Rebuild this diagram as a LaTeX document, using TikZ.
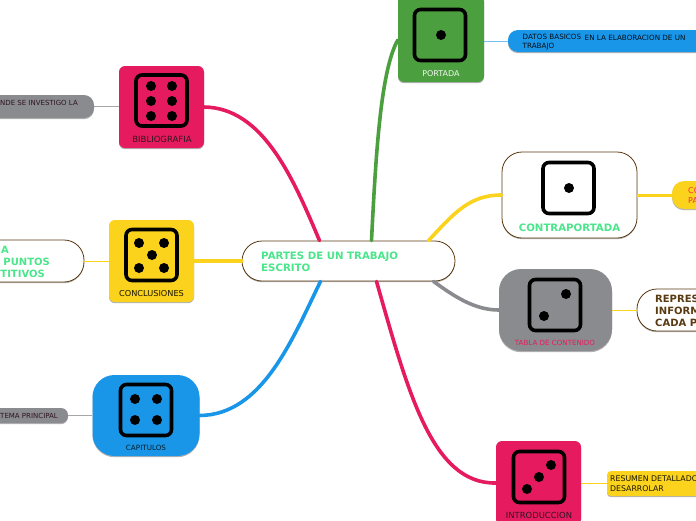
\documentclass[tikz,border=0pt]{standalone}
\usepackage{fontspec}
\setmainfont{DejaVu Sans}
\usetikzlibrary{shadows}
\definecolor{cpink}{HTML}{E61B5F}
\definecolor{cyellow}{HTML}{FBD31C}
\definecolor{cblue}{HTML}{1A96E8}
\definecolor{cgreen}{HTML}{4C9F3F}
\definecolor{cgray}{HTML}{8A8B8E}
\definecolor{cbrown}{HTML}{5A3A10}
\definecolor{cmint}{HTML}{4BE58B}
\definecolor{cmaroon}{HTML}{2E1420}
\definecolor{cred}{HTML}{F0304A}
\tikzset{
  softshadow/.style={drop shadow={shadow xshift=0pt,shadow yshift=-1.2pt,opacity=.3,fill=black}},
  box/.style={rectangle,inner sep=0pt,softshadow},
  whitebox/.style={box,fill=white,draw=cbrown,line width=.8pt},
  die/.style={rectangle,draw=black,line width=3.6pt,rounded corners=6pt,minimum width=51pt,minimum height=51pt,inner sep=0pt},
  pip/.style={fill=black},
  lab/.style={inner sep=0pt,align=left,anchor=base west},
  clab/.style={inner sep=0pt,anchor=base},
  trunk/.style={line width=3.6pt,line cap=round},
  twig/.style={line width=1pt},
}
\newcommand{\fs}[1]{\fontsize{#1}{#1}\selectfont}
\begin{document}
\begin{tikzpicture}[x=1pt,y=-1pt]
\useasboundingbox (0,0) rectangle (696,520);
\clip (0,0) rectangle (696,520);
% central
\node[whitebox,rounded corners=20pt,minimum width=213pt,minimum height=40pt] (cen) at (348.5,261) {};
\node[lab,text=cmint] (centxt1) at (261,259) {\fs{10.2}\bfseries PARTES DE UN TRABAJO};
\node[lab,text=cmint] (centxt2) at (261,271) {\fs{10.2}\bfseries ESCRITO};
% main boxes
\node[box,fill=cgreen,rounded corners=6pt,minimum width=86pt,minimum height=87pt] (port) at (441,38.5) {};
\node[box,fill=cpink,rounded corners=6pt,minimum width=85pt,minimum height=82pt] (bib) at (161.5,107) {};
\node[box,fill=cyellow,rounded corners=6pt,minimum width=85pt,minimum height=82pt] (conc) at (151.5,261) {};
\node[box,fill=cblue,rounded corners=22pt,minimum width=107pt,minimum height=81pt] (cap) at (146,415.5) {};
\node[whitebox,rounded corners=20pt,minimum width=135pt,minimum height=86pt] (contra) at (569.5,195) {};
\node[box,fill=cgray,rounded corners=22pt,minimum width=113pt,minimum height=82pt] (tabla) at (555.5,310) {};
\node[box,fill=cpink,rounded corners=6pt,minimum width=85pt,minimum height=84pt] (intro) at (538.5,483) {};
% dice
\node[die] (dport) at (440,35) {};
\fill[pip] (441,35) circle (5);
\node[die] (dbib) at (161.5,100.5) {};
\foreach \px in {151,172} \foreach \py in {86,101,116} \fill[pip] (\px,\py) circle (5);
\node[die] (dconc) at (151.5,255) {};
\foreach \px/\py in {139/243,164/243,152/255,139/268,164/268} \fill[pip] (\px,\py) circle (5);
\node[die] (dcap) at (146,410) {};
\foreach \px/\py in {135/399,157/399,135/420,157/420} \fill[pip] (\px,\py) circle (5);
\node[die] (dcontra) at (568.5,188) {};
\fill[pip] (569,188) circle (5);
\node[die] (dtabla) at (555,305) {};
\foreach \px/\py in {566/294,544/316} \fill[pip] (\px,\py) circle (5);
\node[die] (dintro) at (539,477) {};
\foreach \px/\py in {551/465,539/477,527/489} \fill[pip] (\px,\py) circle (5);
% captions
\node[clab,text=white!92!cgreen] (tport) at (441,76) {\fs{8}PORTADA};
\node[clab,text=cmaroon] (tbib) at (162,142) {\fs{8.5}BIBLIOGRAFIA};
\node[clab,text=black!90!cyellow] (tconc) at (151.5,296) {\fs{8.2}CONCLUSIONES};
\node[clab,text=black!80!cblue] (tcap) at (146,450) {\fs{7.2}CAPITULOS};
\node[clab,text=cmint] (tcontra) at (569.5,231) {\fs{10.2}\bfseries CONTRAPORTADA};
\node[clab,text=cpink] (ttabla) at (555,345) {\fs{7.1}TABLA DE CONTENIDO};
\node[clab,text=cmaroon] (tintro) at (539,518) {\fs{8.4}INTRODUCCION};
% leaves
\node[box,fill=cgray,rounded corners=10pt,minimum width=154pt,minimum height=23pt] (lbib) at (17,106.5) {};
\node[lab,anchor=base east,text=cmaroon] (tlbib) at (78,105) {\fs{7}NDE SE INVESTIGO LA};
\node[whitebox,rounded corners=20pt,minimum width=164pt,minimum height=42pt] (lconc) at (2,261) {};
\node[lab,anchor=base east,text=cmint] (tlconc1) at (9,253) {\fs{10}\bfseries IA};
\node[lab,anchor=base east,text=cmint] (tlconc2) at (50,265) {\fs{10}\bfseries PUNTOS};
\node[lab,anchor=base east,text=cmint] (tlconc3) at (45,277) {\fs{10}\bfseries TITIVOS};
\node[box,fill=cgray,rounded corners=7pt,minimum width=128pt,minimum height=15pt] (lcap) at (4,415.5) {};
\node[lab,anchor=base east,text=cmaroon] (tlcap) at (58,418) {\fs{7}TEMA PRINCIPAL};
\node[box,fill=cblue,rounded corners=10pt,minimum width=240pt,minimum height=22pt] (lport) at (628,41) {};
\node[lab,text=black!90!cblue] (tlport1) at (522.5,39) {\fs{7.2}DATOS BASICOS};
\node[lab,text=black!90!cblue] (tlport2) at (584.5,40) {\fs{7.2}EN LA ELABORACION DE UN};
\node[lab,text=black!90!cblue] (tlport3) at (522.5,48) {\fs{7.2}TRABAJO};
\node[box,fill=cyellow,rounded corners=12pt,minimum width=80pt,minimum height=28pt] (lcontra) at (712,195) {};
\node[lab,text=cred] (tlcontra1) at (688,193) {\fs{8}CO};
\node[lab,text=cred] (tlcontra2) at (688,203) {\fs{8}PA};
\node[whitebox,rounded corners=20pt,minimum width=130pt,minimum height=42pt] (ltabla) at (702,310) {};
\node[lab,text=cbrown] (tltabla1) at (655,302) {\fs{10}\bfseries REPRES};
\node[lab,text=cbrown] (tltabla2) at (655,314) {\fs{10}\bfseries INFORM};
\node[lab,text=cbrown] (tltabla3) at (655,326) {\fs{10}\bfseries CADA P};
\node[box,fill=cyellow,rounded corners=4pt,minimum width=160pt,minimum height=25pt] (lintro) at (687,483.5) {};
\node[lab,text=black!90!cyellow] (tlintro1) at (610,481) {\fs{7.8}RESUMEN DETALLADO};
\node[lab,text=black!90!cyellow] (tlintro2) at (610,491) {\fs{7.8}DESARROLAR};
% trunks
\draw[trunk,cgreen] ([xshift=23pt]cen.north) .. controls (376,150) and (381,70) .. (port.west |- 0,40);
\draw[trunk,cpink] (bib.east) .. controls (262,108) and (292,175) .. ([xshift=-29pt]cen.north);
\draw[trunk,cyellow] (conc.east) -- (cen.west);
\draw[trunk,cblue] (cap.east) .. controls (262,415) and (292,340) .. ([xshift=-28pt]cen.south);
\draw[trunk,cyellow] ([xshift=80pt]cen.north) .. controls (455,212) and (470,195) .. (contra.west);
\draw[trunk,cgray] ([xshift=85pt]cen.south) .. controls (455,297) and (475,310) .. (tabla.west);
\draw[trunk,cpink] ([xshift=28pt]cen.south) .. controls (408,392) and (432,484) .. (intro.west);
% twigs
\draw[twig,gray!70] (lbib.east) -- (bib.west |- lbib.east);
\draw[twig,cyellow] (lconc.east) -- (conc.west);
\draw[twig,gray!70] (lcap.east) -- (cap.west);
\draw[twig,cblue!60] (port.east |- lport.west) -- (lport.west);
\draw[line width=3pt,cyellow] (contra.east) -- (lcontra.west);
\draw[twig,cyellow] (tabla.east) -- (ltabla.west);
\draw[twig,cyellow] (intro.east |- lintro.west) -- (lintro.west);
\end{tikzpicture}
\end{document}
